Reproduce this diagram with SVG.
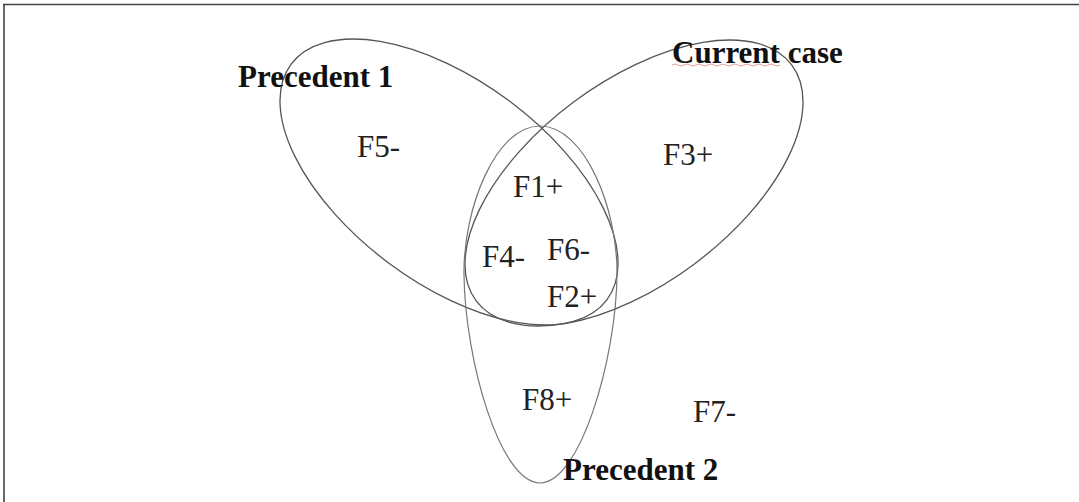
<svg xmlns="http://www.w3.org/2000/svg" width="1079" height="502" viewBox="0 0 1079 502">
<style>
.frame{stroke:#444;stroke-width:1.6;fill:none}
.set{fill:none;stroke:#555;stroke-width:1.3}
.set2{fill:none;stroke:#777;stroke-width:1.2}
.title{font-family:"Liberation Serif","Times New Roman",serif;font-weight:bold;font-size:31px;fill:#111}
.lbl{font-family:"Liberation Serif","Times New Roman",serif;font-size:31px;fill:#222}
</style>
<rect width="1079" height="502" fill="#fff"/>
<path class="frame" d="M3,4.5 H1079 M4,4 V502"/>
<g id="connectors"/>
<g id="precedent1">
<ellipse class="set" cx="449" cy="182" rx="197" ry="101" transform="rotate(36.75 449 182)"/>
<text class="title" x="238" y="87">Precedent 1</text>
</g>
<g id="current-case">
<ellipse class="set" cx="634" cy="183" rx="197" ry="101" transform="rotate(-36.75 634 183)"/>
<path d="M672,65 q3,-2 6,0 t6,0 t6,0 t6,0 t6,0 t6,0 t6,0 t6,0 t6,0 t6,0 t6,0 t6,0 t6,0 t6,0 t6,0 t6,0 t6,0 t6,0" fill="none" stroke="#e8a0a0" stroke-width="1"/>
<text class="title" x="672" y="63">Current case</text>
</g>
<g id="precedent2">
<path class="set2" d="M540,126 C585,126 618,210 617,275 C616,360 580,483 540,483 C500,483 465,360 464,275 C463,210 495,126 540,126 Z"/>
<text class="title" x="563" y="480">Precedent 2</text>
</g>
<g id="labels">
<text class="lbl" x="357" y="157">F5-</text>
<text class="lbl" x="513" y="197">F1+</text>
<text class="lbl" x="663" y="165">F3+</text>
<text class="lbl" x="482" y="267">F4-</text>
<text class="lbl" x="547" y="260">F6-</text>
<text class="lbl" x="547" y="307">F2+</text>
<text class="lbl" x="522" y="410">F8+</text>
<text class="lbl" x="693" y="422">F7-</text>
</g>
</svg>
